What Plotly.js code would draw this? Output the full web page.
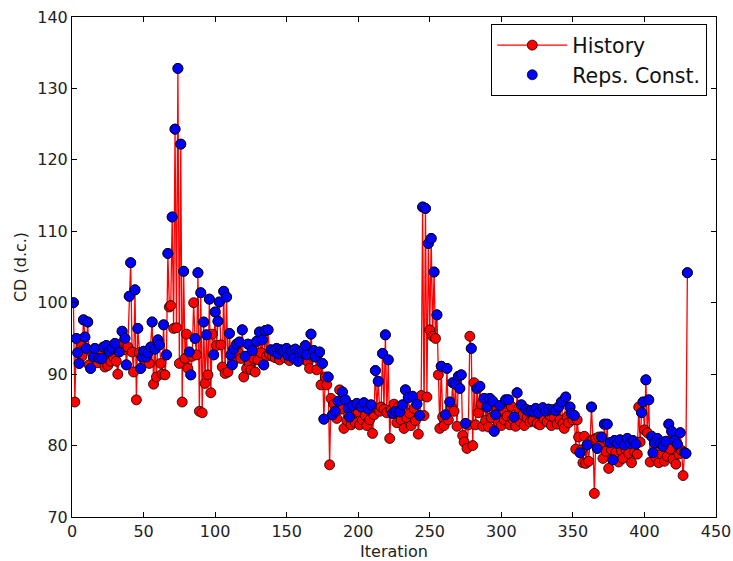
<!DOCTYPE html>
<html>
<head>
<meta charset="utf-8">
<script src="https://cdn.plot.ly/plotly-3.0.1.min.js"></script>
<style>html,body{margin:0;padding:0;background:#fff;}#chart{width:733px;height:561px;}</style>
</head>
<body>
<div id="chart"></div>
<script>
// CD history, one value per iteration starting at iteration 1
const historyCD = [
  100, 86.1, 95, 93, 91.5, 94.5, 92.5, 97.6, 95.2, 93.6,
  97.3, 91.3, 90.8, 93, 92.4, 93.6, 92.8, 91.6, 92.2, 93.2,
  92.2, 93.8, 91, 94, 91.2, 93.2, 91.8, 93.6, 92.4, 94.3,
  91.8, 90, 93.1, 94.2, 96, 93.4, 95, 91.3, 93.8, 100.9,
  105.6, 93.1, 90.3, 101.8, 86.4, 96.4, 93, 90.8, 92.4, 93.2,
  91.7, 92.4, 93, 91.5, 93.8, 97.3, 88.6, 93.5, 89.6, 94.8,
  94.1, 91.5, 90, 96.9, 89.9, 92.7, 106.9, 99.4, 99.6, 112,
  96.4, 124.3, 96.5, 132.8, 91.5, 122.2, 86.1, 104.4, 92.2, 95.6,
  90.8, 93.1, 89.9, 92.5, 100, 95, 92.7, 104.2, 84.8, 101.4,
  84.6, 97.3, 88.7, 95.5, 89.9, 100.5, 87.4, 95.6, 92.7, 98.7,
  94, 97.4, 100.1, 94.1, 91, 101.6, 90.1, 100.8, 90.3, 95.7,
  92.7, 91.3, 93.5, 92.1, 94.2, 93, 94.5, 92.2, 96.2, 89.6,
  92.5, 90.8, 94.2, 91.5, 90.6, 93.3, 92.2, 90.3, 94.6, 92,
  95.9, 93, 94.8, 91.3, 96.1, 92.5, 96.2, 92.8, 93.4, 92.5,
  93.2, 92.3, 93.6, 92.8, 92, 93.4, 92.9, 93.3, 92.3, 93.6,
  92.6, 91.9, 93.2, 92.7, 92.2, 93.5, 92.6, 91.8, 93, 92.4,
  93.2, 92.1, 94, 92.7, 91.7, 90.8, 95.6, 92.5, 93.3, 92.4,
  90.6, 92.8, 93.1, 88.5, 91.5, 83.7, 89.6, 88.5, 89.6, 77.3,
  86.6, 84.3, 85.8, 84.8, 83.8, 86.2, 87.8, 85.1, 87.5, 82.4,
  86.4, 83.5, 85.2, 84, 82.9, 85.6, 84.5, 83.2, 85.9, 84.7,
  82.9, 85.4, 83.6, 86, 84.2, 82.8, 85.1, 83.6, 85.7, 81.7,
  84.3, 90.5, 85.2, 89, 84.8, 85.4, 92.9, 85.1, 95.5, 84.6,
  92, 81, 85, 84.5, 85.8, 84.8, 83.2, 85.4, 84.7, 83.6,
  85.7, 82.4, 87.8, 83.9, 86.7, 84.5, 82.8, 86.9, 85.2, 83.5,
  85.8, 81.6, 84.2, 87, 113.4, 84.2, 113.2, 86.8, 108.3, 96.2,
  109, 95.3, 104.3, 95, 98.3, 89.9, 82.4, 91.1, 84, 82.8,
  84.3, 90.8, 83.6, 86.1, 85.4, 88.8, 84.8, 88.6, 82.7, 89.7,
  88, 89.9, 81.4, 80.5, 83.1, 79.6, 82.9, 95.3, 93.6, 80,
  88.8, 82.9, 88, 84.6, 88.3, 85.8, 82.7, 86.6, 83.5, 85.4,
  82.6, 86.6, 83.9, 86.2, 82, 84.3, 85.1, 83.2, 85.6, 82.8,
  84.9, 83.6, 86.4, 84.1, 86.4, 82.9, 85.5, 83.7, 84, 82.7,
  87.4, 85.2, 83.4, 85.7, 84.3, 82.8, 85.1, 83.9, 84.8, 83.3,
  84.9, 83.5, 84.7, 85.2, 83.1, 84.6, 82.9, 84.4, 85.3, 83.7,
  84.8, 83.3, 85.1, 84.2, 82.8, 85, 83.9, 84.9, 83, 85.4,
  83.6, 86.1, 83.1, 82.4, 86.8, 84, 83.2, 85.4, 84.5, 83.6,
  84.2, 79.5, 83.6, 81.2, 79, 79.4, 77.6, 81.3, 77.5, 80.1,
  77.8, 80.6, 85.4, 80.8, 73.3, 81, 79.6, 81.2, 79.9, 81.2,
  78.2, 83, 79.2, 83, 76.8, 80.4, 79.4, 78, 80.7, 79,
  80.3, 77.7, 80.8, 79.2, 78.2, 80.1, 79.5, 81, 78.9, 80.3,
  77.6, 80.7, 79.1, 80.2, 78.8, 85.4, 80.5, 84.6, 86.1, 82.2,
  89.2, 81.8, 86.4, 77.7, 81.3, 79, 80.4, 78.3, 81, 77.6,
  80.3, 78.8, 79.9, 77.8, 80.6, 78.5, 83, 79.5, 82, 78.1,
  80.7, 77.4, 80.2, 78.8, 81.8, 79.3, 75.8, 79, 78.9, 104.2
];
// Iterations at which a representative constant is recorded
const repsIter = [
  1, 3, 4, 5, 8, 9, 10, 11, 13, 15, 16, 19, 21, 22, 24, 26, 28, 30,
  33, 35, 37, 38, 40, 41, 44, 46, 48, 49, 50, 52, 53, 55, 56, 58, 60,
  61, 64, 66, 67, 70, 72, 74, 76, 78, 82, 83, 86, 88, 90, 92, 94, 96, 99, 100,
  102, 103, 106, 108, 110, 111, 112, 113, 115, 117, 119, 121, 123, 126, 129,
  131, 133, 134, 135, 137, 139, 141, 143, 144, 146, 148, 150, 151, 153, 155, 156, 158, 159,
  161, 163, 164, 167, 169, 170, 173, 175, 176, 179, 182, 184, 186, 189,
  191, 193, 194, 196, 199, 202, 204, 207, 209, 212, 214, 217, 219,
  221, 224, 226, 229, 231, 233, 235, 238, 241, 243, 245, 247, 249,
  251, 253, 255, 258, 261, 262, 264, 266, 268, 270, 271, 272, 275, 279,
  283, 285, 288, 290, 292, 294, 295, 296, 299, 303, 305, 309,
  311, 314, 317, 319, 321, 323, 324, 326, 329, 331, 333, 336, 338, 340,
  342, 345, 348, 349, 351, 355, 360, 363, 367, 370, 372, 374, 376, 378, 379,
  381, 383, 386, 388, 390, 392, 394, 398, 399, 401, 403, 405, 406, 407, 409,
  411, 413, 415, 417, 419, 421, 423, 425, 428, 429, 430
];
const firstIter = 1;
const repsCD = repsIter.map(it => historyCD[it - firstIter]);

const font = "DejaVu Sans, sans-serif";
const traces = [
  {
    type: "scatter", mode: "lines+markers", name: "History",
    x0: firstIter, dx: 1, y: historyCD,
    line: {color: "#ff0000", width: 1.3},
    marker: {color: "#ff0000", size: 10, line: {color: "#000000", width: 0.8}}
  },
  {
    type: "scatter", mode: "markers", name: "Reps. Const.",
    x: repsIter, y: repsCD,
    marker: {color: "#0000ff", size: 10, line: {color: "#000000", width: 0.8}}
  }
];
const axisCommon = {
  showgrid: false, zeroline: false, showline: true, linecolor: "#000", linewidth: 1,
  mirror: "allticks", ticks: "inside", ticklen: 5, tickcolor: "#000", tickwidth: 1,
  tickfont: {family: font, size: 16, color: "#222"}
};
const layout = {
  width: 733, height: 561,
  margin: {l: 72, r: 17, t: 17, b: 44},
  paper_bgcolor: "#fff", plot_bgcolor: "#fff",
  showlegend: true,
  xaxis: Object.assign({}, axisCommon, {
    range: [0, 450], dtick: 50, tick0: 0,
    title: {text: "Iteration", font: {family: font, size: 16, color: "#222"}, standoff: 6}
  }),
  yaxis: Object.assign({}, axisCommon, {
    range: [70, 140], dtick: 10, tick0: 70,
    title: {text: "CD (d.c.)", font: {family: font, size: 16, color: "#222"}, standoff: 6}
  }),
  legend: {
    x: 0.986, y: 0.986, xanchor: "right", yanchor: "top",
    bgcolor: "#fff", bordercolor: "#000", borderwidth: 1.3,
    font: {family: font, size: 20.5, color: "#111"},
    itemwidth: 70, tracegroupgap: 0
  }
};
Plotly.newPlot("chart", traces, layout, {displayModeBar: false, staticPlot: true});
</script>
</body>
</html>
